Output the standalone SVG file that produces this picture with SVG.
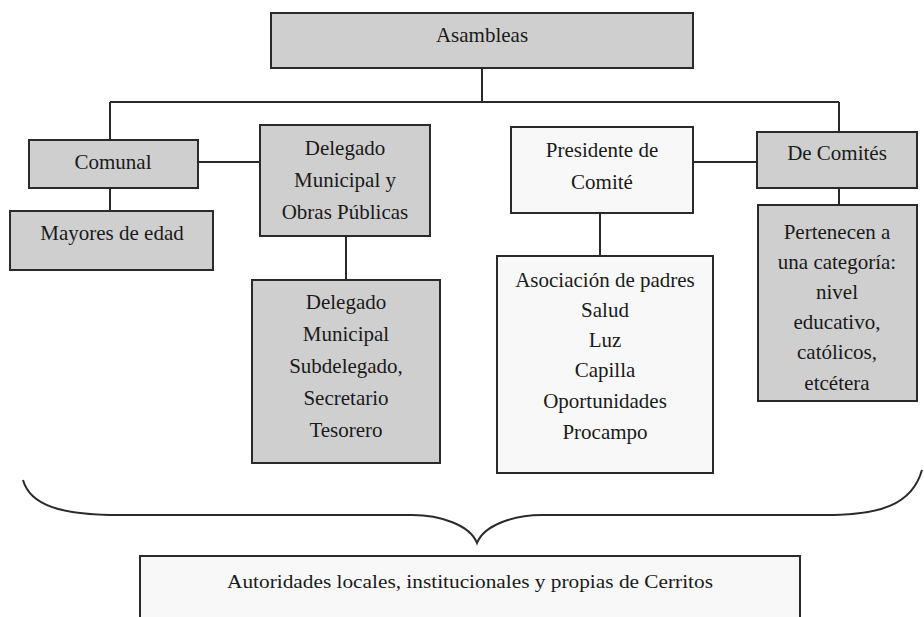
<svg xmlns="http://www.w3.org/2000/svg" width="924" height="617" viewBox="0 0 924 617">
<style>
.g{fill:#cfcfcf;stroke:#2a2a2a;stroke-width:2}
.w{fill:#f8f8f8;stroke:#2a2a2a;stroke-width:2}
text{font-family:"Liberation Serif","Times New Roman",serif;font-size:21px;fill:#1a1a1a;text-anchor:middle}
.c{fill:none;stroke:#2a2a2a;stroke-width:2}
</style>
<rect width="924" height="617" fill="#ffffff"/>
<g id="connectors">
<path class="c" d="M482 68V102M110 102H839M110 102V140M839 102V132M110 188V211M198 162H260M346 236V280M693 162H757M600 213V256M839 188V205"/>
<path class="c" d="M23 480C30 505 60 515 120 515H412C440 515 470 525 477 543C484 525 514 515 542 515H825C880 515 912 505 922 470"/>
</g>
<g id="asambleas"><rect class="g" x="271" y="13" width="422" height="55"/><text x="482" y="42">Asambleas</text></g>
<g id="comunal"><rect class="g" x="29" y="140" width="169" height="48"/><text x="113" y="169">Comunal</text></g>
<g id="mayores"><rect class="g" x="10" y="211" width="203" height="59"/><text x="112" y="240">Mayores de edad</text></g>
<g id="delegado"><rect class="g" x="260" y="125" width="170" height="111"/><text x="345" y="155">Delegado</text><text x="345" y="187">Municipal y</text><text x="345" y="219">Obras Públicas</text></g>
<g id="delegado-municipal"><rect class="g" x="252" y="280" width="188" height="183"/><text x="346" y="309">Delegado</text><text x="346" y="341">Municipal</text><text x="346" y="373">Subdelegado,</text><text x="346" y="405">Secretario</text><text x="346" y="437">Tesorero</text></g>
<g id="presidente"><rect class="w" x="511" y="127" width="182" height="86"/><text x="602" y="157">Presidente de</text><text x="602" y="189">Comité</text></g>
<g id="asociacion"><rect class="w" x="497" y="256" width="216" height="217"/><text x="605" y="287">Asociación de padres</text><text x="605" y="317">Salud</text><text x="605" y="347">Luz</text><text x="605" y="377">Capilla</text><text x="605" y="408">Oportunidades</text><text x="605" y="439">Procampo</text></g>
<g id="de-comites"><rect class="g" x="757" y="132" width="160" height="56"/><text x="837" y="160">De Comités</text></g>
<g id="pertenecen"><rect class="g" x="758" y="205" width="159" height="196"/><text x="837" y="239">Pertenecen a</text><text x="837" y="269">una categoría:</text><text x="837" y="299">nivel</text><text x="837" y="329">educativo,</text><text x="837" y="359">católicos,</text><text x="837" y="390">etcétera</text></g>
<g id="autoridades"><rect class="w" x="140" y="556" width="660" height="80"/><text x="470" y="588" style="font-size:18px" textLength="486" lengthAdjust="spacingAndGlyphs">Autoridades locales, institucionales y propias de Cerritos</text></g>
</svg>
